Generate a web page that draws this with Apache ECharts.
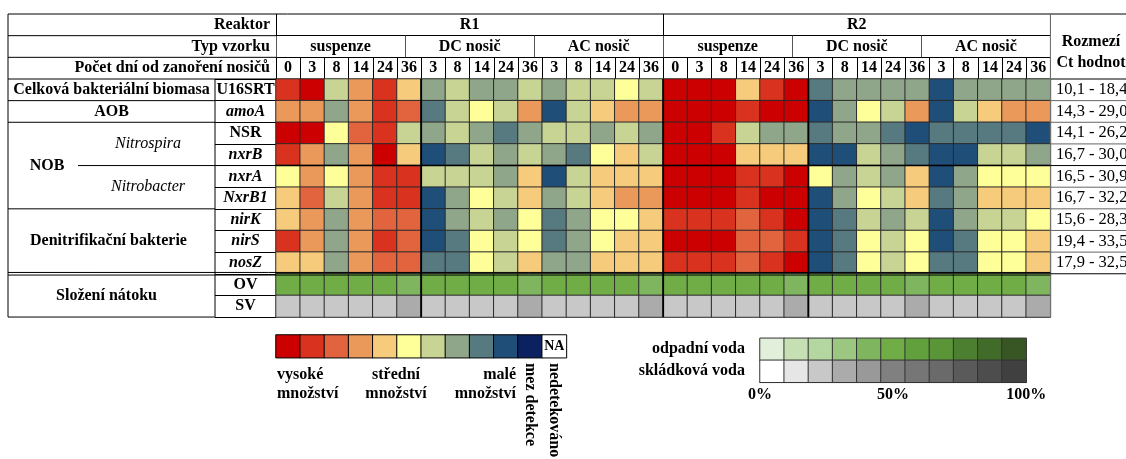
<!DOCTYPE html>
<html>
<head>
<meta charset="utf-8">
<script src="https://cdn.jsdelivr.net/npm/echarts@6/dist/echarts.min.js"></script>
<style>
html,body{margin:0;padding:0;background:#fff;}
#c{width:1126px;height:459px;}
</style>
</head>
<body>
<div id="c"></div>
<script>
// ---------------- DATA ----------------
const reactorLabels = ['R1', 'R2'];
const typeLabels = ['suspenze', 'DC nosič', 'AC nosič', 'suspenze', 'DC nosič', 'AC nosič'];
const dayLabels = ['0','3','8','14','24','36','3','8','14','24','36','3','8','14','24','36',
                   '0','3','8','14','24','36','3','8','14','24','36','3','8','14','24','36'];
const geneLabels = ['U16SRT','amoA','NSR','nxrB','nxrA','NxrB1','nirK','nirS','nosZ'];
const geneItalic = [false,true,false,true,true,true,true,true,true];
const inflowLabels = ['OV','SV'];
const ctRanges = ['10,1 - 18,4','14,3 - 29,0','14,1 - 26,2','16,7 - 30,0','16,5 - 30,9',
                  '16,7 - 32,2','15,6 - 28,3','19,4 - 33,5','17,9 - 32,5'];
// abundance level: 0 = vysoké ... 9 = malé, 10 = mez detekce, 11 = NA
const U16SRT = [1,0,6,3,1,4, 7,6,7,7,6, 7,6,6,5,6, 0,0,0,4,1,0, 8,7,7,7,7, 9,7,7,7,7];
const amoA   = [3,3,7,3,1,2, 8,6,5,6,3, 9,6,4,3,3, 0,0,0,1,0,0, 9,7,5,6,3, 9,6,4,3,3];
const NSR    = [0,0,5,2,1,6, 7,6,7,8,7, 6,6,7,6,7, 0,0,1,6,7,7, 8,7,7,8,9, 8,8,8,8,9];
const nxrB   = [1,3,7,3,0,4, 9,8,6,7,6, 7,8,5,4,6, 0,0,0,4,4,4, 9,9,6,7,8, 9,9,6,6,7];
const nxrA   = [5,3,5,3,1,1, 6,6,6,7,4, 9,6,4,4,4, 0,0,0,1,1,0, 5,7,6,7,4, 9,7,5,5,5];
const NxrB1  = [4,2,6,3,1,1, 9,7,5,6,4, 7,6,4,3,3, 0,0,0,1,0,0, 9,7,5,6,4, 8,7,4,4,4];
const nirK   = [4,3,7,3,2,2, 9,7,6,7,5, 8,7,5,5,4, 1,1,1,2,1,0, 9,8,6,7,6, 9,7,6,6,5];
const nirS   = [1,3,7,3,1,2, 9,8,5,6,5, 8,7,5,4,4, 0,0,0,2,2,1, 9,8,5,6,5, 9,8,5,5,4];
const nosZ   = [4,4,7,3,2,2, 8,8,5,6,4, 7,7,4,4,4, 1,1,1,2,1,0, 9,8,5,6,5, 8,8,5,5,4];
// inflow composition level (0 = 0 %, 10 = 100 %)
const OV = [5,5,5,5,5,4, 5,5,5,5,4, 5,5,5,5,4, 5,5,5,5,5,4, 5,5,5,5,4, 5,5,5,5,4];
const SV = [2,2,2,2,2,3, 2,2,2,2,3, 2,2,2,2,3, 2,2,2,2,2,3, 2,2,2,2,3, 2,2,2,2,3];
const abundanceLegend = [0,1,2,3,4,5,6,7,8,9,10,11];
const compositionLegend = [0,1,2,3,4,5,6,7,8,9,10];
const compositionRows = ['odpadní voda','skládková voda'];
const percentTicks = [0, 50, 100];

// ---------------- STYLE ----------------
const abundanceColors = ['#CC0000','#D9321E','#E2643F','#EB985B','#F6CB7C','#FFFF99',
                         '#C8D494','#8FA68A','#577A80','#1F4E79','#0B2160','#FFFFFF'];
const greenColors = ['#E2EFDA','#C6E0B4','#B4D6A0','#9CC781','#7FB55E','#70AD47',
                     '#629F3D','#5A9537','#4D7F30','#416B29','#375623'];
const grayColors = ['#FFFFFF','#E6E6E6','#C8C8C8','#ABABAB','#999999','#808080',
                    '#767676','#6A6A6A','#5A5A5A','#4D4D4D','#404040'];
const FF = '"Liberation Serif", "DejaVu Serif", serif';
const FS = 16;

const X0 = 276, CW = 24.2, Y0 = 79, RH = 21.64, HH = 21.67, LX = 8, GX = 215, RX = 1050.4, W = 1126;
const NC = dayLabels.length, NR = geneLabels.length + inflowLabels.length;
const rowY = k => Y0 + k * RH;
const colX = k => X0 + k * CW;

const geneRows = [U16SRT, amoA, NSR, nxrB, nxrA, NxrB1, nirK, nirS, nosZ];
const geneData = [];
geneRows.forEach((row, r) => row.forEach((v, c) => geneData.push([c, r, v])));
const ovData = OV.map((v, c) => [c, geneLabels.length, v]);
const svData = SV.map((v, c) => [c, geneLabels.length + 1, v]);
const legAData = abundanceLegend.map((v, i) => [i, 0, v]);
const legOVData = compositionLegend.map((v, i) => [i, 0, v]);
const legSVData = compositionLegend.map((v, i) => [i, 1, v]);

const chart = echarts.init(document.getElementById('c'), null, {renderer: 'canvas'});

function pieces(colors) { return colors.map((c, i) => ({value: i, color: c})); }
function L(x1, y1, x2, y2, w, col) {
  return {type: 'line', z: 100, silent: true,
    shape: {x1, y1, x2, y2}, style: {stroke: col || '#000', lineWidth: w || 1}};
}
function T(x, y, text, o) {
  o = o || {};
  return {type: 'text', z: 101, silent: true, x, y, rotation: o.rot || 0,
    style: {text, x: 0, y: 0, fill: '#000', fontFamily: FF, fontSize: o.size || FS,
      fontWeight: o.weight || 'bold', fontStyle: o.style || 'normal',
      textAlign: o.align || 'center', textVerticalAlign: o.va || 'middle'}};
}

const hdrLabel = {interval: 0, verticalAlign: 'middle', margin: HH / 2, color: '#000',
  fontFamily: FF, fontSize: FS, fontWeight: 'bold'};
function topAxis(data, offset, tickColor, fmt) {
  return {gridIndex: 0, type: 'category', data, position: 'top', offset,
    axisLine: {show: true, lineStyle: {color: '#000', width: 1}},
    axisTick: {show: true, length: HH, lineStyle: {color: tickColor, width: 1}},
    axisLabel: Object.assign({}, hdrLabel, fmt ? {formatter: fmt} : {}),
    splitLine: {show: false}};
}

const graphics = [];
// header frame (left label area, right column)
graphics.push(L(LX, 14, W, 14, 1));
graphics.push(L(LX, 14 + HH, X0, 14 + HH, 1));
graphics.push(L(LX, 14 + 2 * HH, X0, 14 + 2 * HH, 1));
graphics.push(L(LX, Y0, X0, Y0, 1));
graphics.push(L(RX, Y0, W, Y0, 1));
graphics.push(L(LX, 14, LX, rowY(NR), 1));
graphics.push(L(GX, Y0, GX, rowY(NR), 1));
graphics.push(L(RX, 14, RX, rowY(NR), 1, '#777'));
// group separators in the left label column
[1, 2, 6, 11].forEach(k => graphics.push(L(LX, rowY(k), GX, rowY(k), 1)));
graphics.push(L(78, rowY(4), X0, rowY(4), 1));
graphics.push(L(X0, rowY(4), RX, rowY(4), 1.5));
graphics.push(L(LX, rowY(9) - 1.3, RX, rowY(9) - 1.3, 1));
graphics.push(L(LX, rowY(9) + 1.3, RX, rowY(9) + 1.3, 1));
// right column row lines
for (let k = 1; k <= 9; k++) graphics.push(L(RX, rowY(k), W, rowY(k), 1, k === 4 || k === 9 ? '#000' : '#666'));
// thicker vertical group lines in matrix
[6, 16, 22].forEach(k => graphics.push(L(colX(k), Y0, colX(k), rowY(NR), 1.8)));
// header texts (left)
graphics.push(T(270, 14 + HH / 2, 'Reaktor', {align: 'right'}));
graphics.push(T(270, 14 + 1.5 * HH, 'Typ vzorku', {align: 'right'}));
graphics.push(T(270, 14 + 2.5 * HH, 'Počet dní od zanoření nosičů', {align: 'right'}));
// right column header and values
graphics.push(T(1091, 42, 'Rozmezí'));
graphics.push(T(1091, 63, 'Ct hodnot'));
ctRanges.forEach((s, i) => graphics.push(T(1056, rowY(i + 0.5), s, {align: 'left', weight: 'normal', size: 16.5})));
// group labels
const gc = (LX + GX) / 2;
graphics.push(T(gc, rowY(0.5), 'Celková bakteriální biomasa'));
graphics.push(T(gc, rowY(1.5), 'AOB'));
graphics.push(T(47, rowY(4), 'NOB'));
graphics.push(T(148, rowY(3), 'Nitrospira', {weight: 'normal', style: 'italic'}));
graphics.push(T(148, rowY(5), 'Nitrobacter', {weight: 'normal', style: 'italic'}));
graphics.push(T(gc - 3, rowY(7.5), 'Denitrifikační bakterie'));
graphics.push(T(gc - 5, rowY(10), 'Složení nátoku'));
// abundance legend texts
graphics.push(T(277, 375, 'vysoké', {align: 'left'}));
graphics.push(T(277, 394, 'množství', {align: 'left'}));
graphics.push(T(396, 375, 'střední'));
graphics.push(T(396, 394, 'množství'));
graphics.push(T(516, 375, 'malé', {align: 'right'}));
graphics.push(T(516, 394, 'množství', {align: 'right'}));
graphics.push(T(colX(10.5), 363, 'mez detekce', {align: 'left', rot: -Math.PI / 2}));
graphics.push(T(colX(11.5), 363, 'nedetekováno', {align: 'left', rot: -Math.PI / 2}));

const option = {
  animation: false,
  backgroundColor: '#fff',
  grid: [
    {left: X0, top: Y0, width: NC * CW, height: NR * RH},
    {left: X0, top: 335, width: abundanceLegend.length * CW, height: 22.7},
    {left: colX(20), top: 338.3, width: compositionLegend.length * CW, height: 44}
  ],
  xAxis: [
    topAxis(dayLabels.map((d, i) => String(i)), 0, '#000', (v, i) => dayLabels[i]),
    topAxis(typeLabels.map((d, i) => String(i)), HH, '#555', (v, i) => typeLabels[i]),
    topAxis(reactorLabels, 2 * HH, '#000'),
    {gridIndex: 1, type: 'category', data: abundanceLegend.map(String), show: false},
    {gridIndex: 2, type: 'category', data: compositionLegend.map(String), show: false},
    {gridIndex: 2, type: 'value', min: 0, max: 100, interval: 50, position: 'bottom',
      axisLine: {show: true, lineStyle: {color: '#000', width: 1}}, axisTick: {show: false},
      splitLine: {show: false},
      axisLabel: {showMinLabel: true, showMaxLabel: true, margin: 5, color: '#000',
        fontFamily: FF, fontSize: FS, fontWeight: 'bold',
        formatter: v => percentTicks.indexOf(v) >= 0 ? v + '%' : ''}}
  ],
  yAxis: [
    {gridIndex: 0, type: 'category', inverse: true, data: geneLabels.concat(inflowLabels),
      axisLine: {show: true, lineStyle: {color: '#000', width: 1}},
      axisTick: {show: true, length: X0 - GX, lineStyle: {color: '#000', width: 1}},
      splitLine: {show: false},
      axisLabel: {interval: 0, align: 'center', margin: (X0 - GX) / 2,
        formatter: (v, i) => (i < geneItalic.length && geneItalic[i] ? '{i|' : '{b|') + v + '}',
        rich: {
          b: {fontFamily: FF, fontSize: FS, fontWeight: 'bold', color: '#000'},
          i: {fontFamily: FF, fontSize: FS, fontWeight: 'bold', fontStyle: 'italic', color: '#000'}
        }}},
    {gridIndex: 1, type: 'category', data: ['a'], show: false},
    {gridIndex: 2, type: 'category', inverse: true, data: compositionRows,
      axisLine: {show: false}, axisTick: {show: false},
      axisLabel: {margin: 15, color: '#000', fontFamily: FF, fontSize: FS, fontWeight: 'bold'}}
  ],
  visualMap: [
    {type: 'piecewise', show: false, dimension: 2, seriesIndex: [0, 3], pieces: pieces(abundanceColors)},
    {type: 'piecewise', show: false, dimension: 2, seriesIndex: [1, 4], pieces: pieces(greenColors)},
    {type: 'piecewise', show: false, dimension: 2, seriesIndex: [2, 5], pieces: pieces(grayColors)}
  ],
  series: [
    {type: 'heatmap', xAxisIndex: 0, yAxisIndex: 0, data: geneData,
      itemStyle: {borderColor: '#2a2a2a', borderWidth: 1}, emphasis: {disabled: true}},
    {type: 'heatmap', xAxisIndex: 0, yAxisIndex: 0, data: ovData,
      itemStyle: {borderColor: '#2a2a2a', borderWidth: 1}, emphasis: {disabled: true}},
    {type: 'heatmap', xAxisIndex: 0, yAxisIndex: 0, data: svData,
      itemStyle: {borderColor: '#2a2a2a', borderWidth: 1}, emphasis: {disabled: true}},
    {type: 'heatmap', xAxisIndex: 3, yAxisIndex: 1, data: legAData,
      itemStyle: {borderColor: '#000', borderWidth: 1}, emphasis: {disabled: true},
      label: {show: true, color: '#000', fontFamily: FF, fontSize: 14, fontWeight: 'bold',
        formatter: p => p.value[2] === 11 ? 'NA' : ''}},
    {type: 'heatmap', xAxisIndex: 4, yAxisIndex: 2, data: legOVData,
      itemStyle: {borderColor: '#333', borderWidth: 1}, emphasis: {disabled: true}},
    {type: 'heatmap', xAxisIndex: 4, yAxisIndex: 2, data: legSVData,
      itemStyle: {borderColor: '#333', borderWidth: 1}, emphasis: {disabled: true}}
  ],
  graphic: {elements: graphics}
};
chart.setOption(option);
</script>
</body>
</html>
